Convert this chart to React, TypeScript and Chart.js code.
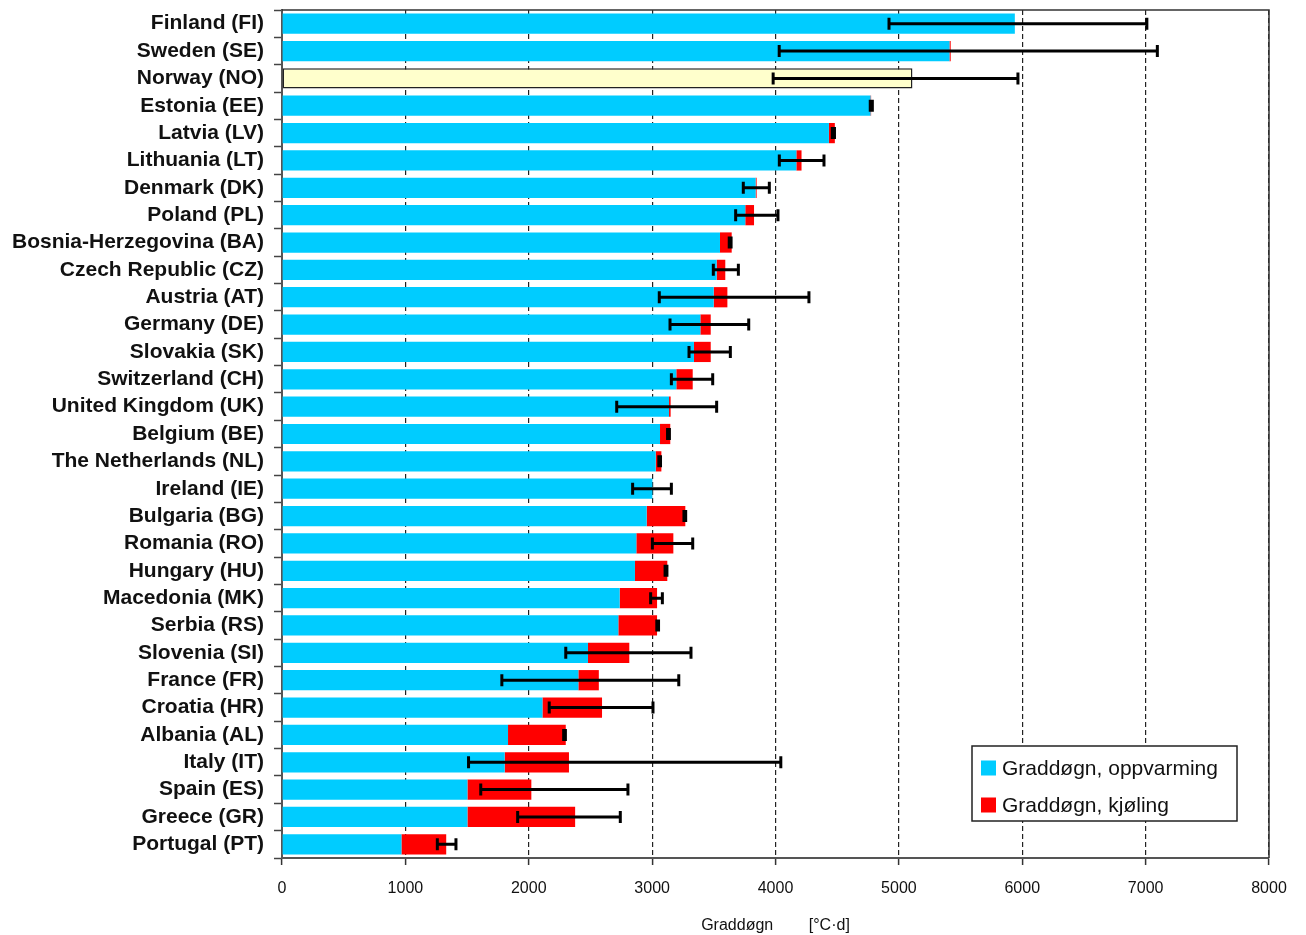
import React, { useEffect, useRef } from 'react';
import { Chart, registerables } from 'chart.js';

Chart.register(...registerables);

const countries = [
  'Finland (FI)', 'Sweden (SE)', 'Norway (NO)', 'Estonia (EE)', 'Latvia (LV)', 'Lithuania (LT)',
  'Denmark (DK)', 'Poland (PL)', 'Bosnia-Herzegovina (BA)', 'Czech Republic (CZ)', 'Austria (AT)',
  'Germany (DE)', 'Slovakia (SK)', 'Switzerland (CH)', 'United Kingdom (UK)', 'Belgium (BE)',
  'The Netherlands (NL)', 'Ireland (IE)', 'Bulgaria (BG)', 'Romania (RO)', 'Hungary (HU)',
  'Macedonia (MK)', 'Serbia (RS)', 'Slovenia (SI)', 'France (FR)', 'Croatia (HR)', 'Albania (AL)',
  'Italy (IT)', 'Spain (ES)', 'Greece (GR)', 'Portugal (PT)',
];

const heating = [
  5940, 5410, 5110, 4770, 4433, 4169, 3839, 3755, 3550, 3523, 3499, 3391, 3339, 3196, 3137, 3064,
  3029, 3002, 2956, 2872, 2861, 2737, 2726, 2480, 2402, 2111, 1832, 1805, 1503, 1503, 968,
];

const cooling = [
  0, 10, 0, 5, 48, 42, 8, 71, 95, 70, 111, 84, 136, 133, 13, 83, 46, 0, 313, 300, 262, 303, 314,
  335, 166, 483, 468, 521, 518, 873, 363,
];

const errLow = [
  4920, 4030, 3981, 4768, 4460, 4031, 3739, 3677, 3625, 3496, 3058, 3145, 3299, 3156, 2713, 3125,
  3054, 2842, 3258, 3002, 3105, 2988, 3038, 2300, 1782, 2166, 2283, 1512, 1611, 1910, 1259,
];

const errHigh = [
  7010, 7095, 5965, 4785, 4478, 4393, 3950, 4020, 3640, 3699, 4271, 3783, 3634, 3491, 3523, 3140,
  3068, 3156, 3272, 3329, 3120, 3083, 3052, 3315, 3216, 3007, 2297, 4043, 2804, 2742, 1410,
];

const xMin = 0;
const xMax = 8000;
const xStep = 1000;

const seriesLabels = ['Graddøgn, oppvarming', 'Graddøgn, kjøling'];
const axisTitle = 'Graddøgn        [°C·d]';
const highlight = 'Norway (NO)';

const FONT = '"Liberation Sans", Arial, sans-serif';
const BLUE = '#00CCFF';
const RED = '#FF0000';
const YELLOW = '#FFFFCC';

const errorBarPlugin = {
  id: 'errorBars',
  afterDatasetsDraw(chart: any) {
    const { ctx, scales } = chart;
    const x = scales.x;
    const y = scales.y;
    ctx.save();
    ctx.strokeStyle = '#000';
    ctx.lineWidth = 3;
    ctx.lineCap = 'butt';
    errLow.forEach((lo, i) => {
      const hi = errHigh[i];
      const py = y.getPixelForValue(i);
      const x1 = x.getPixelForValue(lo);
      const x2 = x.getPixelForValue(hi);
      ctx.beginPath();
      ctx.moveTo(x1, py);
      ctx.lineTo(x2, py);
      ctx.moveTo(x1, py - 6);
      ctx.lineTo(x1, py + 6);
      ctx.moveTo(x2, py - 6);
      ctx.lineTo(x2, py + 6);
      ctx.stroke();
    });
    ctx.restore();
  },
};

const frameLegendPlugin = {
  id: 'frameLegend',
  afterDraw(chart: any) {
    const { ctx, chartArea } = chart;
    const { left, right, top, bottom } = chartArea;
    ctx.save();
    ctx.strokeStyle = '#333';
    ctx.lineWidth = 1.5;
    ctx.beginPath();
    ctx.moveTo(left, top);
    ctx.lineTo(right, top);
    ctx.lineTo(right, bottom);
    ctx.stroke();

    // legend box
    const bw = 265;
    const bh = 75;
    const bx = right - 32 - bw;
    const by = bottom - 37 - bh;
    ctx.fillStyle = '#fff';
    ctx.fillRect(bx, by, bw, bh);
    ctx.strokeStyle = '#222';
    ctx.lineWidth = 1.5;
    ctx.strokeRect(bx, by, bw, bh);
    const colors = [BLUE, RED];
    ctx.font = `21px ${FONT}`;
    ctx.textBaseline = 'middle';
    ctx.textAlign = 'left';
    seriesLabels.forEach((lab, i) => {
      const cy = by + 22 + i * 37;
      ctx.fillStyle = colors[i];
      ctx.fillRect(bx + 9, cy - 7.5, 15, 15);
      ctx.fillStyle = '#111';
      ctx.fillText(lab, bx + 30, cy + 1);
    });
    ctx.restore();
  },
};

export default function App() {
  const canvasRef = useRef<HTMLCanvasElement | null>(null);

  useEffect(() => {
    const canvas = canvasRef.current;
    if (!canvas) return;
    const chart = new Chart(canvas, {
      type: 'bar',
      data: {
        labels: countries,
        datasets: [
          {
            label: seriesLabels[0],
            data: heating,
            backgroundColor: countries.map((c) => (c === highlight ? YELLOW : BLUE)),
            borderColor: '#222',
            borderWidth: countries.map((c) => (c === highlight ? 1.5 : 0)) as any,
            borderSkipped: false,
            barPercentage: 0.74,
            categoryPercentage: 1,
          },
          {
            label: seriesLabels[1],
            data: cooling,
            backgroundColor: RED,
            borderWidth: 0,
            barPercentage: 0.74,
            categoryPercentage: 1,
          },
        ],
      },
      options: {
        indexAxis: 'y',
        animation: false,
        responsive: true,
        maintainAspectRatio: false,
        layout: { padding: { top: 10, right: 37, left: 0, bottom: 0 } },
        plugins: {
          legend: { display: false },
          tooltip: { enabled: false },
        },
        scales: {
          x: {
            stacked: true,
            min: xMin,
            max: xMax,
            ticks: {
              stepSize: xStep,
              font: { family: FONT, size: 16 },
              color: '#111',
              padding: 14,
              callback: (v: any) => String(v),
            },
            grid: {
              color: '#222',
              lineWidth: 1.2,
              drawTicks: true,
              tickLength: 7,
              tickColor: '#333',
              tickWidth: 1.5,
              tickBorderDash: [],
            },
            border: { display: true, color: '#555', width: 2, dash: [5, 3] },
            title: {
              display: true,
              text: axisTitle,
              font: { family: FONT, size: 16 },
              color: '#111',
              padding: { top: 4, bottom: 0 },
            },
            afterFit: (s: any) => {
              s.height = 77;
            },
          },
          y: {
            stacked: true,
            offset: true,
            grid: {
              display: true,
              drawOnChartArea: false,
              offset: true,
              drawTicks: true,
              tickLength: 8,
              color: '#444',
              tickColor: '#444',
              tickWidth: 1.5,
            },
            border: { display: true, color: '#555', width: 2 },
            ticks: {
              font: { family: FONT, size: 21, weight: 'bold' },
              color: '#111',
              padding: 10,
              autoSkip: false,
            },
            afterFit: (s: any) => {
              s.width = 282;
              s.paddingTop = 0;
              s.paddingBottom = 0;
            },
          },
        },
      } as any,
      plugins: [errorBarPlugin, frameLegendPlugin],
    });
    return () => chart.destroy();
  }, []);

  return (
    <div style={{ position: 'fixed', left: 0, top: 0, width: 1306, height: 935, background: '#fff' }}>
      <canvas ref={canvasRef} />
    </div>
  );
}
